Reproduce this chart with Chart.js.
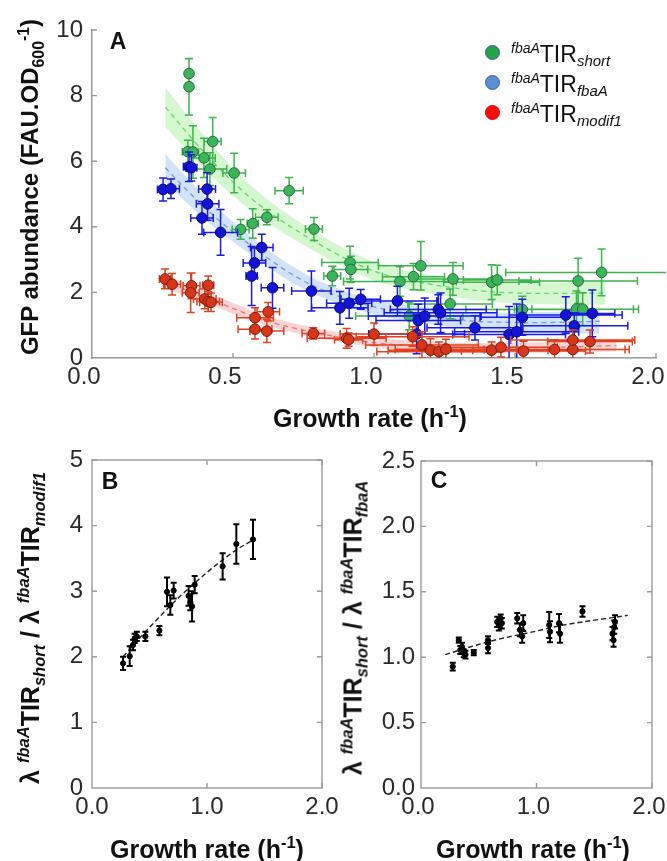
<!DOCTYPE html>
<html>
<head>
<meta charset="utf-8">
<script src="https://cdn.jsdelivr.net/npm/chart.js@4.4.1/dist/chart.umd.min.js"></script>
<style>
  body { margin: 0; background: #fff; }
  #page { position: relative; width: 667px; height: 861px; overflow: hidden;
          font-family: "Liberation Sans", Arial, sans-serif; color: #111; }
  canvas { position: absolute; }
  .t { position: absolute; white-space: nowrap; font-weight: bold; }
  .rot { transform: translate(-50%, -50%) rotate(-90deg); }
  .ctr { transform: translate(-50%, -50%); }
  .t sub, .t sup { font-size: 0.66em; line-height: 0; }
  .t i { font-style: italic; }
  .dot { position: absolute; width: 13px; height: 13px; border-radius: 50%; border: 1.5px solid; }
  .leg { position: absolute; left: 511px; font-size: 23px; line-height: 23px; white-space: nowrap; }
  .leg .s1 { font-size: 14px; font-style: italic; position: relative; top: -9px; }
  .leg .s2 { font-size: 15px; font-style: italic; position: relative; top: 4px; }
</style>
</head>
<body>
<div id="page">
  <canvas id="chartA" width="667" height="410" style="left:0;top:0"></canvas>
  <canvas id="chartB" width="360" height="451" style="left:0;top:410px"></canvas>
  <canvas id="chartC" width="334" height="451" style="left:333px;top:410px"></canvas>

  <div class="t rot" style="left:30px;top:187px;font-size:24px">GFP abundance (FAU.OD<sub>600</sub><sup>-1</sup>)</div>
  <div class="t ctr" style="left:370px;top:418px;font-size:25px">Growth rate (h<sup>-1</sup>)</div>
  <div class="t ctr" style="left:207px;top:849px;font-size:25px">Growth rate (h<sup>-1</sup>)</div>
  <div class="t ctr" style="left:533px;top:849px;font-size:25px">Growth rate (h<sup>-1</sup>)</div>
  <div class="t rot" style="left:30px;top:628px;font-size:25px">λ <sup><i>fbaA</i></sup>TIR<sub><i>short</i></sub> / λ <sup><i>fbaA</i></sup>TIR<sub><i>modif1</i></sub></div>
  <div class="t rot" style="left:353px;top:628px;font-size:25px">λ <sup><i>fbaA</i></sup>TIR<sub><i>short</i></sub> / λ <sup><i>fbaA</i></sup>TIR<sub><i>fbaA</i></sub></div>

  <div class="t ctr" style="left:118px;top:41px;font-size:23px">A</div>
  <div class="t ctr" style="left:110px;top:481px;font-size:23px">B</div>
  <div class="t ctr" style="left:439px;top:480px;font-size:23px">C</div>

  <div class="dot" style="left:485px;top:45px;background:#22a34a;border-color:#3f5f8f"></div>
  <div class="dot" style="left:485px;top:75px;background:#5b8fd4;border-color:#3f5f8f"></div>
  <div class="dot" style="left:485px;top:105px;background:#ff0a0a;border-color:#e00000"></div>
  <div class="leg" style="top:43px"><span class="s1">fbaA</span>TIR<span class="s2">short</span></div>
  <div class="leg" style="top:73px"><span class="s1">fbaA</span>TIR<span class="s2">fbaA</span></div>
  <div class="leg" style="top:103px"><span class="s1">fbaA</span>TIR<span class="s2">modif1</span></div>
</div>

<script>
// Panel A - fbaA TIR short (green)
const shortX = [0.344, 0.344, 0.34, 0.358, 0.397, 0.428, 0.418, 0.504, 0.699, 0.527, 0.57, 0.62, 0.787, 0.852, 0.915, 0.918, 1.092, 1.14, 1.166, 1.28, 1.27, 1.125, 1.417, 1.437, 1.526, 1.724, 1.807, 1.718, 1.74];
const shortY = [8.67, 8.27, 6.29, 6.28, 6.1, 6.6, 5.76, 5.64, 5.1, 3.92, 4.1, 4.29, 3.93, 2.5, 2.91, 2.7, 2.33, 2.48, 2.81, 2.41, 1.65, 1.28, 2.31, 2.38, 1.48, 2.35, 2.61, 1.49, 1.49];
const shortYErr = [0.45, 0.86, 0.35, 0.8, 0.6, 0.73, 0.5, 0.6, 0.4, 0.3, 0.45, 0.23, 0.35, 0.3, 0.5, 0.4, 0.45, 0.4, 0.74, 0.5, 0.45, 0.42, 0.53, 0.45, 0.4, 0.69, 0.71, 0.55, 0.5];
const shortXErr = [0.01, 0.01, 0.02, 0.02, 0.04, 0.03, 0.06, 0.04, 0.05, 0.03, 0.02, 0.04, 0.03, 0.03, 0.1, 0.06, 0.2, 0.11, 0.15, 0.14, 0.15, 0.19, 0.17, 0.12, 0.2, 0.21, 0.34, 0.22, 0.18];

// Panel A - fbaA TIR fbaA (blue)
const fbaX = [0.252, 0.28, 0.344, 0.352, 0.408, 0.41, 0.39, 0.456, 0.602, 0.576, 0.566, 0.64, 0.778, 0.879, 0.912, 0.953, 1.083, 1.157, 1.18, 1.228, 1.236, 1.151, 1.358, 1.526, 1.479, 1.506, 1.68, 1.71, 1.774];
const fbaY = [5.14, 5.16, 5.83, 5.8, 5.15, 4.7, 4.27, 3.83, 3.37, 2.9, 2.5, 2.14, 2.04, 1.53, 1.67, 1.79, 1.74, 1.14, 1.28, 1.48, 1.38, 0.73, 0.92, 1.24, 0.72, 0.8, 1.31, 0.98, 1.36];
const fbaYErr = [0.35, 0.3, 0.45, 0.4, 0.5, 0.5, 0.5, 0.7, 0.4, 0.45, 0.9, 0.62, 0.61, 0.5, 0.46, 0.3, 0.45, 0.5, 0.55, 0.45, 0.6, 0.6, 0.37, 0.55, 0.85, 0.85, 0.56, 0.4, 0.71];
const fbaXErr = [0.02, 0.03, 0.02, 0.02, 0.03, 0.04, 0.04, 0.06, 0.04, 0.04, 0.02, 0.04, 0.07, 0.1, 0.08, 0.07, 0.14, 0.15, 0.2, 0.17, 0.2, 0.17, 0.17, 0.15, 0.2, 0.22, 0.2, 0.19, 0.08];

// Panel A - fbaA TIR modif1 (red)
const modX = [0.259, 0.284, 0.353, 0.35, 0.412, 0.40, 0.412, 0.422, 0.578, 0.625, 0.578, 0.62, 0.785, 0.903, 0.91, 1.0, 1.137, 1.17, 1.2, 1.23, 1.255, 1.417, 1.45, 1.53, 1.64, 1.705, 1.705, 1.766];
const modY = [2.41, 2.25, 2.2, 1.99, 2.22, 1.8, 1.72, 1.7, 1.23, 1.41, 0.88, 0.82, 0.75, 0.6, 0.56, 0.73, 0.65, 0.4, 0.24, 0.19, 0.27, 0.24, 0.33, 0.21, 0.26, 0.26, 0.55, 0.5];
const modYErr = [0.3, 0.33, 0.39, 0.6, 0.28, 0.3, 0.3, 0.28, 0.3, 0.28, 0.3, 0.35, 0.17, 0.3, 0.2, 0.34, 0.3, 0.4, 0.35, 0.3, 0.3, 0.25, 0.3, 0.3, 0.3, 0.3, 0.3, 0.35];
const modXErr = [0.02, 0.03, 0.03, 0.03, 0.02, 0.04, 0.04, 0.04, 0.065, 0.04, 0.06, 0.06, 0.04, 0.14, 0.05, 0.12, 0.2, 0.2, 0.15, 0.22, 0.18, 0.2, 0.2, 0.22, 0.25, 0.2, 0.22, 0.15];

// Panel A fitted curves and their band half-widths
const shortFitX = [0.26, 0.4, 0.56, 0.8, 1.0, 1.2, 1.4, 1.6, 1.82];
const shortFitY = [7.65, 6.25, 4.9, 3.5, 2.65, 2.25, 2.03, 1.97, 1.98];
const shortBand = [0.6, 0.5, 0.38, 0.3, 0.28, 0.28, 0.3, 0.33, 0.36];
const fbaFitX = [0.26, 0.35, 0.45, 0.56, 0.7, 0.81, 1.0, 1.2, 1.4, 1.6, 1.8];
const fbaFitY = [5.8, 5.0, 4.2, 3.45, 2.6, 2.1, 1.56, 1.28, 1.1, 1.08, 1.12];
const fbaBand = [0.42, 0.38, 0.33, 0.28, 0.25, 0.23, 0.23, 0.25, 0.28, 0.32, 0.37];
const modFitX = [0.26, 0.44, 0.62, 0.8, 1.0, 1.2, 1.4, 1.6, 1.86];
const modFitY = [2.33, 1.72, 1.13, 0.76, 0.47, 0.35, 0.3, 0.32, 0.38];
const modBand = [0.2, 0.17, 0.15, 0.14, 0.14, 0.15, 0.15, 0.16, 0.18];

// Panel B - ratio short / modif1
const bX = [0.27, 0.328, 0.357, 0.371, 0.39, 0.464, 0.586, 0.652, 0.681, 0.71, 0.84, 0.855, 0.87, 0.893, 1.136, 1.255, 1.4];
const bY = [1.9, 2.01, 2.18, 2.28, 2.31, 2.31, 2.4, 2.99, 2.79, 3.01, 2.93, 2.83, 2.77, 3.1, 3.38, 3.72, 3.79];
const bErr = [0.1, 0.15, 0.08, 0.07, 0.07, 0.07, 0.07, 0.22, 0.15, 0.12, 0.15, 0.12, 0.23, 0.13, 0.2, 0.3, 0.3];
const bFitX = [0.27, 0.48, 0.77, 1.23, 1.42];
const bFitY = [2.0, 2.41, 2.93, 3.6, 3.8];

// Panel C - ratio short / fbaA
const cX = [0.275, 0.327, 0.34, 0.355, 0.37, 0.385, 0.457, 0.58, 0.58, 0.66, 0.674, 0.69, 0.70, 0.833, 0.856, 0.876, 0.885, 1.11, 1.117, 1.195, 1.204, 1.398, 1.658, 1.667, 1.673, 1.68];
const cY = [0.928, 1.13, 1.055, 1.08, 1.03, 1.02, 1.035, 1.07, 1.13, 1.27, 1.245, 1.297, 1.26, 1.297, 1.21, 1.16, 1.26, 1.246, 1.195, 1.26, 1.18, 1.35, 1.18, 1.13, 1.23, 1.27];
const cErr = [0.03, 0.02, 0.03, 0.03, 0.03, 0.03, 0.02, 0.04, 0.03, 0.04, 0.04, 0.03, 0.04, 0.04, 0.05, 0.05, 0.06, 0.1, 0.08, 0.07, 0.07, 0.04, 0.05, 0.05, 0.05, 0.05];
const cFitX = [0.21, 0.59, 1.0, 1.2, 1.79];
const cFitY = [1.02, 1.12, 1.2, 1.24, 1.32];

// Ticks
const aXTicks = [0, 0.5, 1, 1.5, 2];
const aXLabels = ["0.0", "0.5", "1.0", "1.5", "2.0"];
const aYTicks = [0, 2, 4, 6, 8, 10];
const aYLabels = ["0", "2", "4", "6", "8", "10"];
const bcXTicks = [0, 1, 2];
const bcXLabels = ["0.0", "1.0", "2.0"];
const bYTicks = [0, 1, 2, 3, 4, 5];
const bYLabels = ["0", "1", "2", "3", "4", "5"];
const cYTicks = [0, 0.5, 1, 1.5, 2, 2.5];
const cYLabels = ["0.0", "0.5", "1.0", "1.5", "2.0", "2.5"];

const FONT = '"Liberation Sans", Arial, sans-serif';
const AXIS = "#9a9a9a";

const pts = (xs, ys) => xs.map((x, i) => ({ x: x, y: ys[i] }));
const shift = (xs, ys, hw, s) => xs.map((x, i) => ({ x: x, y: ys[i] + s * hw[i] }));

// error bars under each scatter dataset
const errorBars = {
  id: "errorBars",
  beforeDatasetDraw(chart, args) {
    const ds = chart.data.datasets[args.index];
    if (!ds.yErr) return;
    const xs = chart.scales.x, ys = chart.scales.y, ctx = chart.ctx, a = chart.chartArea;
    const cap = ds.cap || 4;
    ctx.save();
    ctx.beginPath();
    ctx.rect(a.left - 10, a.top - 10, a.width + 20, a.height + 10);
    ctx.clip();
    ctx.strokeStyle = ds.errColor;
    ctx.lineWidth = ds.errWidth || 1.5;
    ctx.beginPath();
    ds.data.forEach((p, i) => {
      const px = xs.getPixelForValue(p.x), py = ys.getPixelForValue(p.y);
      const y1 = ys.getPixelForValue(p.y - ds.yErr[i]), y2 = ys.getPixelForValue(p.y + ds.yErr[i]);
      ctx.moveTo(px, y1); ctx.lineTo(px, y2);
      ctx.moveTo(px - cap, y1); ctx.lineTo(px + cap, y1);
      ctx.moveTo(px - cap, y2); ctx.lineTo(px + cap, y2);
      if (ds.xErr) {
        const x1 = xs.getPixelForValue(p.x - ds.xErr[i]), x2 = xs.getPixelForValue(p.x + ds.xErr[i]);
        ctx.moveTo(x1, py); ctx.lineTo(x2, py);
        ctx.moveTo(x1, py - cap); ctx.lineTo(x1, py + cap);
        ctx.moveTo(x2, py - cap); ctx.lineTo(x2, py + cap);
      }
    });
    ctx.stroke();
    ctx.restore();
  }
};

// inward ticks and optional full box
const frame = {
  id: "frame",
  afterDraw(chart, args, opts) {
    const { ctx, chartArea: a, scales: { x, y } } = chart;
    const len = 5;
    ctx.save();
    ctx.strokeStyle = AXIS;
    ctx.lineWidth = 1.4;
    if (opts.box) ctx.strokeRect(a.left, a.top, a.width, a.height);
    ctx.beginPath();
    x.ticks.forEach(t => {
      const px = x.getPixelForValue(t.value);
      if (px <= a.left + 1) return;
      ctx.moveTo(px, a.bottom); ctx.lineTo(px, a.bottom - len);
      if (opts.box) { ctx.moveTo(px, a.top); ctx.lineTo(px, a.top + len); }
    });
    y.ticks.forEach(t => {
      const py = y.getPixelForValue(t.value);
      if (py >= a.bottom - 1) return;
      ctx.moveTo(a.left, py); ctx.lineTo(a.left + len, py);
      if (opts.box) { ctx.moveTo(a.right, py); ctx.lineTo(a.right - len, py); }
    });
    ctx.stroke();
    ctx.restore();
  }
};

function makeScales(c) {
  const font = { family: FONT, size: 24 };
  return {
    x: {
      type: "linear",
      min: c.xTicks[0], max: c.xTicks[c.xTicks.length - 1],
      afterBuildTicks: s => { s.ticks = c.xTicks.map(v => ({ value: v })); },
      ticks: { callback: (v, i) => c.xLabels[i], font: font, color: "#2a2a2a", padding: 5,
               labelOffset: c.xShift || 0, maxRotation: 0, autoSkip: false },
      grid: { display: false, drawTicks: false },
      border: { display: !c.box, color: AXIS, width: 1.5 },
      afterFit: s => { s.height = c.xHeight; s.paddingLeft = 0; s.paddingRight = 0; }
    },
    y: {
      type: "linear",
      min: c.yTicks[0], max: c.yTicks[c.yTicks.length - 1],
      afterBuildTicks: s => { s.ticks = c.yTicks.map(v => ({ value: v })); },
      ticks: { callback: (v, i) => c.yLabels[i], font: font, color: "#2a2a2a", padding: c.yPad, autoSkip: false },
      grid: { display: false, drawTicks: false },
      border: { display: !c.box, color: AXIS, width: 1.5 },
      afterFit: s => { s.width = c.yWidth; s.paddingTop = 0; s.paddingBottom = 0; }
    }
  };
}

function pointSet(xs, ys, yErr, xErr, fill, edge, errColor, r) {
  return { type: "scatter", data: pts(xs, ys), yErr: yErr, xErr: xErr, errColor: errColor,
           pointRadius: r, pointBackgroundColor: fill, pointBorderColor: edge, pointBorderWidth: 1,
           order: 0 };
}
function fitLine(xs, ys, color, dash, width) {
  return { type: "line", data: pts(xs, ys), borderColor: color, borderWidth: width, borderDash: dash,
           pointRadius: 0, fill: false, cubicInterpolationMode: "monotone", order: 1 };
}
function bandPair(xs, ys, hw, color) {
  return [
    { type: "line", data: shift(xs, ys, hw, 1), borderWidth: 0, pointRadius: 0, backgroundColor: color,
      fill: "+1", cubicInterpolationMode: "monotone", order: 2 },
    { type: "line", data: shift(xs, ys, hw, -1), borderWidth: 0, pointRadius: 0, fill: false,
      cubicInterpolationMode: "monotone", order: 2 }
  ];
}

const common = {
  responsive: false, animation: false, devicePixelRatio: 1,
  plugins: { legend: { display: false }, tooltip: { enabled: false } }
};

new Chart(document.getElementById("chartA"), {
  type: "scatter",
  data: {
    datasets: [
      pointSet(modX, modY, modYErr, modXErr, "#d8361a", "#7a1c0c", "#e2401f", 5.3),
      pointSet(fbaX, fbaY, fbaYErr, fbaXErr, "#1414d8", "#0a0a70", "#1a1ae8", 5.3),
      pointSet(shortX, shortY, shortYErr, shortXErr, "#3cb55a", "#256b3a", "#3cb44c", 5.3),
      fitLine(shortFitX, shortFitY, "#66d466", [5, 4], 1.3),
      fitLine(fbaFitX, fbaFitY, "#7896e4", [5, 4], 1.3),
      fitLine(modFitX, modFitY, "#e67878", [5, 4], 1.3),
      ...bandPair(shortFitX, shortFitY, shortBand, "rgba(160, 238, 150, 0.45)"),
      ...bandPair(fbaFitX, fbaFitY, fbaBand, "rgba(170, 204, 245, 0.55)"),
      ...bandPair(modFitX, modFitY, modBand, "rgba(245, 170, 170, 0.5)")
    ]
  },
  options: {
    ...common,
    layout: { padding: { left: 0, top: 30, right: 11, bottom: 0 } },
    scales: makeScales({ xTicks: aXTicks, xLabels: aXLabels, yTicks: aYTicks, yLabels: aYLabels,
                         xHeight: 52, yWidth: 92, yPad: 9, xShift: -8, box: false }),
    plugins: { ...common.plugins, frame: { box: false } }
  },
  plugins: [errorBars, frame]
});

new Chart(document.getElementById("chartB"), {
  type: "scatter",
  data: {
    datasets: [
      { ...pointSet(bX, bY, bErr, null, "#000", "#000", "#000", 2.6), errWidth: 2, cap: 3 },
      fitLine(bFitX, bFitY, "#222", [5, 3], 1.4)
    ]
  },
  options: {
    ...common,
    layout: { padding: { left: 0, top: 50, right: 38, bottom: 0 } },
    scales: makeScales({ xTicks: bcXTicks, xLabels: bcXLabels, yTicks: bYTicks, yLabels: bYLabels,
                         xHeight: 73, yWidth: 92, yPad: 9, xShift: 0, box: true }),
    plugins: { ...common.plugins, frame: { box: true } }
  },
  plugins: [errorBars, frame]
});

new Chart(document.getElementById("chartC"), {
  type: "scatter",
  data: {
    datasets: [
      { ...pointSet(cX, cY, cErr, null, "#000", "#000", "#000", 2.6), errWidth: 2, cap: 3 },
      fitLine(cFitX, cFitY, "#222", [5, 3], 1.4)
    ]
  },
  options: {
    ...common,
    layout: { padding: { left: 0, top: 51, right: 15, bottom: 0 } },
    scales: makeScales({ xTicks: bcXTicks, xLabels: bcXLabels, yTicks: cYTicks, yLabels: cYLabels,
                         xHeight: 73, yWidth: 88, yPad: 6, xShift: -3, box: true }),
    plugins: { ...common.plugins, frame: { box: true } }
  },
  plugins: [errorBars, frame]
});
</script>
</body>
</html>
